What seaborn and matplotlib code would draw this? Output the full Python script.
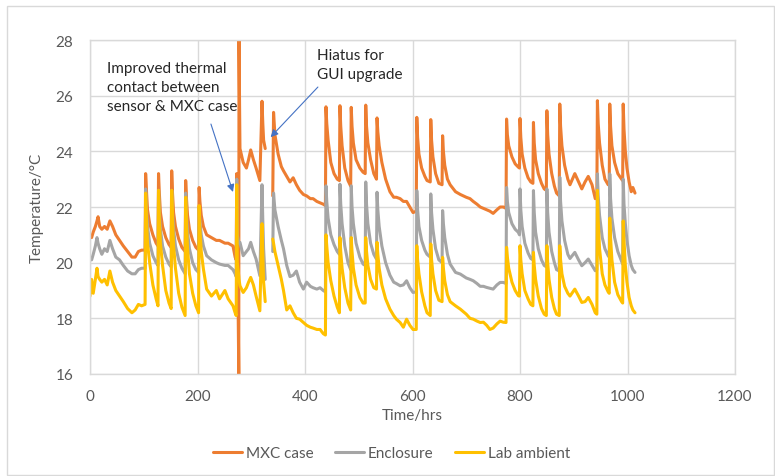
import numpy as np
import pandas as pd
import matplotlib
matplotlib.use("Agg")
import matplotlib.pyplot as plt
from matplotlib.patches import Rectangle
import seaborn as sns

# ---------------- data ----------------
time_hrs = [
    0, 3, 6, 10, 13, 15, 18, 22, 27, 32, 37, 42, 48, 55, 62, 70, 78, 84, 90, 96, 102.5,
    103.5, 105, 107, 111, 117, 123, 126.5, 127.5, 129, 131, 135, 141, 147, 151,
    152, 153.5, 155.5, 159, 165, 171, 177, 178, 179.5, 181.5, 185, 191, 197, 202,
    203, 204.5, 207, 211, 217, 226, 235, 241, 251, 257, 266, 270, 272, 273, 274,
    276.8, 277.2, 279, 285, 291, 295, 299, 304, 309, 316, 320, 321.5, 323, 326,
    340, 341.5, 344, 350, 356, 360, 366, 372, 378, 384, 390, 397, 403, 410, 415,
    422, 428, 434, 438,
    439, 440.5, 443, 448, 454, 460, 464, 465, 466.5, 469, 474, 480, 485,
    486, 487.5, 490, 495, 502, 508, 512, 513, 514.5, 517, 522, 528, 533,
    534, 535.5, 538, 543, 550, 558, 565, 570, 577, 583, 589, 595, 601, 607,
    608, 609.5, 612, 617, 623, 627, 633, 634, 635.5, 638, 643, 649, 655,
    656, 657.5, 660, 665, 670, 680, 689, 700, 707, 713, 720, 726, 732, 738,
    744, 750, 757, 763, 769, 774,
    775, 776.5, 779, 785, 791, 797, 799, 800, 801.5, 804, 809, 815, 820, 824,
    825, 826.5, 829, 834, 840, 845, 849, 850, 851.5, 854, 859, 864, 868, 873,
    874, 875.5, 878, 883, 889, 893, 902, 909, 915, 921, 927, 934, 940, 943,
    944, 945.5, 948, 953, 958, 964, 966, 967, 968.5, 971, 976, 982, 989, 991,
    992, 993.5, 996, 999, 1003, 1007, 1010, 1014,
]
mxc_case = [
    21.0, 20.9, 21.1, 21.3, 21.5, 21.65, 21.3, 21.2, 21.3, 21.2, 21.5, 21.3, 21.0, 20.8, 20.6, 20.4, 20.2, 20.2, 20.4, 20.45, 20.45,
    23.2, 22.6, 21.9, 21.4, 21.0, 20.7, 20.6, 23.2, 22.5, 21.8, 21.3, 20.9, 20.65, 20.55,
    23.3, 22.5, 21.8, 21.3, 20.85, 20.55, 20.4, 22.95, 22.3, 21.7, 21.2, 20.8, 20.55, 20.45,
    22.7, 22.2, 21.7, 21.3, 21.0, 20.9, 20.8, 20.8, 20.7, 20.7, 20.6, 20.2, 20.1, 23.2, 21.5,
    16.0, 28.0, 24.1, 23.6, 23.4, 23.7, 24.05, 23.7, 23.4, 22.95, 25.8, 25.0, 24.4, 24.1,
    22.4, 25.4, 24.6, 23.9, 23.45, 23.3, 23.1, 22.9, 23.05, 22.8, 22.6, 22.45, 22.4, 22.3, 22.3,
    22.2, 22.15, 22.1, 22.05,
    25.6, 25.0, 24.4, 23.6, 23.2, 23.0, 22.95, 25.64, 24.9, 24.2, 23.4, 22.95, 22.75,
    25.58, 24.9, 24.3, 23.7, 23.4, 23.25, 23.2, 25.66, 24.9, 24.3, 23.7, 23.2, 23.0,
    25.2, 24.7, 24.2, 23.6, 23.0, 22.55, 22.35, 22.35, 22.3, 22.2, 22.2, 22.0, 21.8, 21.85,
    25.22, 24.5, 23.9, 23.4, 23.1, 22.95, 22.9, 25.14, 24.4, 23.8, 23.2, 22.85, 22.8,
    24.56, 24.0, 23.5, 23.0, 22.8, 22.55, 22.45, 22.35, 22.3, 22.2, 22.1, 22.0, 21.95, 21.9,
    21.85, 21.77, 21.9, 22.0, 22.0, 21.95,
    25.16, 24.6, 24.2, 23.8, 23.55, 23.43, 23.4, 25.18, 24.5, 23.9, 23.4, 23.05, 22.9, 22.85,
    25.04, 24.3, 23.7, 23.2, 22.85, 22.65, 22.6, 25.46, 24.6, 23.9, 23.2, 22.75, 22.5, 22.4,
    25.7, 24.9, 24.2, 23.5, 23.0, 22.8, 23.2, 22.9, 22.65, 22.9, 23.1, 22.8, 22.3, 22.4,
    25.82, 25.0, 24.3, 23.5, 23.0, 22.8, 22.8, 25.7, 24.9, 24.2, 23.6, 23.2, 23.0, 22.95,
    25.7, 24.8, 24.0, 23.4, 22.9, 22.55, 22.7, 22.5,
]
enclosure = [
    20.2, 20.1, 20.3, 20.6, 20.9, 20.7, 20.5, 20.3, 20.5, 20.4, 20.8, 20.5, 20.2, 20.1, 19.9, 19.7, 19.6, 19.6, 19.75, 19.8, 19.8,
    22.65, 21.9, 21.3, 20.7, 20.25, 20.0, 19.9, 22.6, 21.8, 21.2, 20.6, 20.2, 19.95, 19.85,
    22.6, 21.8, 21.2, 20.6, 20.1, 19.8, 19.6, 22.5, 21.7, 21.1, 20.5, 20.0, 19.75, 19.65,
    22.0, 21.5, 21.0, 20.6, 20.25, 20.1, 20.0, 19.95, 19.9, 19.9, 19.75, 19.6, 19.5, 23.0, 21.0,
    20.7, 20.7, 20.73, 20.25, 20.4, 20.5, 20.73, 20.4, 20.13, 19.53, 22.8, 21.5, 20.5, 19.4,
    20.4, 22.5, 21.9, 21.3, 20.8, 20.5, 19.9, 19.5, 19.55, 19.7, 19.3, 19.05, 19.3, 19.15, 19.1,
    19.05, 19.1, 19.0, 18.95,
    22.76, 22.2, 21.6, 21.0, 20.65, 20.4, 20.3, 22.82, 22.1, 21.4, 20.6, 20.0, 19.75,
    22.76, 22.0, 21.4, 20.7, 20.2, 19.95, 19.9, 22.9, 22.1, 21.4, 20.7, 20.3, 20.13,
    22.53, 21.9, 21.3, 20.6, 20.0, 19.55, 19.3, 19.25, 19.17, 19.2, 19.35, 19.1, 18.93, 18.95,
    22.59, 21.9, 21.3, 20.8, 20.45, 20.3, 20.2, 22.47, 21.8, 21.2, 20.5, 20.1, 20.0,
    21.87, 21.4, 20.9, 20.3, 19.95, 19.65, 19.59, 19.45, 19.4, 19.35, 19.25, 19.15, 19.15, 19.11,
    19.08, 19.05, 19.2, 19.29, 19.29, 19.25,
    22.7, 22.2, 21.8, 21.4, 21.2, 21.09, 21.0, 22.65, 21.9, 21.3, 20.7, 20.35, 20.15, 20.1,
    22.59, 21.8, 21.1, 20.5, 20.1, 19.9, 19.85, 22.65, 21.8, 21.1, 20.4, 20.0, 19.75, 19.7,
    23.07, 22.2, 21.5, 20.8, 20.3, 20.15, 20.37, 20.1, 19.89, 20.0, 20.13, 19.9, 19.71, 19.75,
    23.19, 22.4, 21.7, 20.9, 20.5, 20.25, 20.2, 23.19, 22.3, 21.6, 20.9, 20.4, 20.05, 19.95,
    23.0, 22.1, 21.4, 20.8, 20.25, 19.9, 19.75, 19.65,
]
lab_ambient = [
    18.8, 19.4, 18.9, 19.4, 19.8, 19.5, 19.4, 19.3, 19.4, 19.2, 19.7, 19.3, 19.0, 18.8, 18.6, 18.35, 18.2, 18.3, 18.5, 18.45, 18.5,
    22.5, 21.6, 20.7, 20.0, 19.2, 18.7, 18.45, 22.6, 21.6, 20.7, 19.9, 19.0, 18.55, 18.35,
    22.6, 21.6, 20.6, 19.8, 18.9, 18.4, 18.1, 22.35, 21.4, 20.5, 19.6, 18.9, 18.45, 18.2,
    22.05, 21.2, 20.4, 19.77, 19.05, 18.8, 19.0, 18.7, 19.0, 18.7, 18.45, 18.2, 18.1, 22.8, 20.0,
    19.5, 19.4, 19.17, 18.93, 19.1, 19.3, 19.47, 19.2, 18.8, 18.27, 21.4, 20.3, 19.3, 18.6,
    20.85, 20.7, 20.4, 19.9, 19.4, 19.0, 18.3, 18.45, 18.2, 18.0, 17.97, 17.85, 17.75, 17.68, 17.65,
    17.6, 17.6, 17.45, 17.4,
    21.0, 20.6, 20.0, 19.35, 18.8, 18.4, 18.2, 20.9, 20.4, 19.8, 19.1, 18.55, 18.3,
    20.9, 20.4, 19.8, 19.2, 18.75, 18.55, 18.55, 20.9, 20.4, 19.9, 19.4, 19.1, 19.05,
    20.73, 20.3, 19.8, 19.2, 18.7, 18.33, 18.1, 17.97, 17.85, 17.68, 17.97, 17.75, 17.6, 17.6,
    20.61, 20.1, 19.6, 18.95, 18.45, 18.2, 18.1, 20.67, 20.1, 19.6, 19.0, 18.65, 18.6,
    20.19, 19.8, 19.35, 18.85, 18.6, 18.45, 18.33, 18.15, 18.0, 17.97, 17.9, 17.85, 17.86, 17.75,
    17.6, 17.65, 17.8, 17.9, 17.86, 17.85,
    20.55, 20.2, 19.8, 19.3, 19.0, 18.81, 18.8, 20.61, 20.1, 19.6, 19.0, 18.7, 18.5, 18.45,
    20.37, 19.9, 19.4, 18.8, 18.35, 18.15, 18.1, 20.61, 20.0, 19.4, 18.75, 18.35, 18.15, 18.1,
    20.61, 20.1, 19.6, 19.15, 18.9, 18.8, 19.05, 18.8, 18.57, 18.6, 18.75, 18.5, 18.2, 18.15,
    22.6, 21.5, 20.5, 19.6, 19.2, 18.95, 18.9, 21.6, 20.9, 20.1, 19.3, 18.85, 18.6, 18.55,
    21.5, 20.8, 19.9, 19.3, 18.75, 18.45, 18.3, 18.2,
]

series_names = ["MXC case", "Enclosure", "Lab ambient"]
series_colors = ["#ED7D31", "#A5A5A5", "#FFC000"]
x_ticks = [0, 200, 400, 600, 800, 1000, 1200]
y_ticks = [16, 18, 20, 22, 24, 26, 28]
hiatus_split = 333  # logging paused around here (GUI upgrade)

# ---------------- build long table ----------------
t = np.asarray(time_hrs, dtype=float)
segment = (t > hiatus_split).astype(int)
frames = []
for name, vals in zip(series_names, [mxc_case, enclosure, lab_ambient]):
    frames.append(pd.DataFrame({"Time/hrs": t, "Temperature": vals,
                                "series": name, "segment": segment}))
df = pd.concat(frames, ignore_index=True)

# ---------------- style ----------------
sns.set_style("white")
plt.rcParams["font.family"] = ["Lato", "DejaVu Sans"]
text_col = "#595959"
grid_col = "#D9D9D9"

W, H = 775, 477
fig = plt.figure(figsize=(W / 100, H / 100), dpi=100)
ax = fig.add_axes([90 / W, 1 - 375 / H, 645 / W, 334 / H])

sns.lineplot(data=df, x="Time/hrs", y="Temperature", hue="series",
             units="segment", estimator=None, hue_order=series_names,
             palette=series_colors, linewidth=2.2, sort=False, ax=ax)

ax.set_xlim(0, 1200)
ax.set_ylim(16, 28)
ax.set_xticks(x_ticks)
ax.set_yticks(y_ticks)
ax.grid(True, color=grid_col, linewidth=1.0)
ax.set_axisbelow(True)
for sp in ax.spines.values():
    sp.set_color(grid_col)
    sp.set_linewidth(1.0)
ax.tick_params(axis="both", length=0, labelsize=11, colors=text_col)
ax.tick_params(axis="y", pad=12)
ax.tick_params(axis="x", pad=11)

ax.set_xlabel("Time/hrs", fontsize=11, color=text_col)
ax.set_ylabel("Temperature/°C", fontsize=11, color=text_col)
ax.xaxis.set_label_coords(0.5, -0.102)
ax.yaxis.set_label_coords(-0.072, 0.5)

# legend at bottom
handles, labels = ax.get_legend_handles_labels()
for h in handles:
    h.set_linewidth(2.2)
leg = ax.legend(handles, labels, loc="center", bbox_to_anchor=(0.505, 0.048),
                bbox_transform=fig.transFigure, ncol=3, frameon=False,
                fontsize=11, handlelength=1.9, handletextpad=0.25,
                columnspacing=1.4)
for txt in leg.get_texts():
    txt.set_color(text_col)

# annotations
ax.text(31.5, 27.25, "Improved thermal\ncontact between\nsensor & MXC case",
        ha="left", va="top", fontsize=11, color="#262626", linespacing=1.45)
ax.text(422, 27.7, "Hiatus for\nGUI upgrade",
        ha="left", va="top", fontsize=11, color="#262626", linespacing=1.45)
arrow_kw = dict(arrowstyle="-|>", color="#4472C4", lw=0.8, mutation_scale=11,
                shrinkA=0, shrinkB=0)
ax.annotate("", xy=(266, 22.54), xytext=(225, 24.98), arrowprops=arrow_kw)
ax.annotate("", xy=(336, 24.51), xytext=(424, 26.31), arrowprops=arrow_kw)

# chart-area border
fig.patches.append(Rectangle((7 / W, 1 - 476 / H), (774 - 7) / W, (476 - 7) / H,
                             transform=fig.transFigure, fill=False,
                             edgecolor=grid_col, linewidth=1.0))

fig.savefig("out.png", dpi=100)
